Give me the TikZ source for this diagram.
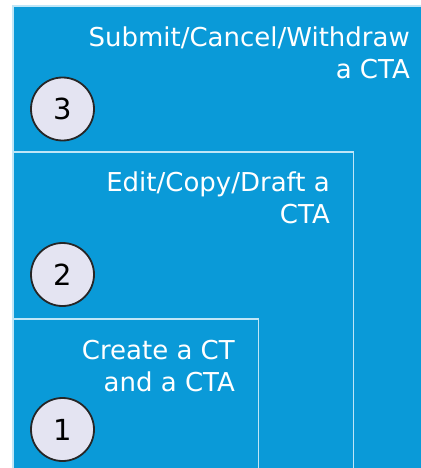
\documentclass[tikz,border=0pt]{standalone}
\usepackage{fontspec}
\setmainfont{DejaVu Sans}
\definecolor{boxblue}{HTML}{0A9AD8}
\definecolor{edgeblue}{HTML}{BFE6F7}
\definecolor{circfill}{HTML}{E4E4F2}
\begin{document}
\begin{tikzpicture}[x=1pt,y=-1pt,
  panel/.style={fill=boxblue,draw=edgeblue,line width=1.6pt},
  num/.style={circle,draw=black!85,line width=1.8pt,fill=circfill,minimum size=63pt,inner sep=0pt,font=\fontsize{29}{29}\selectfont},
  lbl/.style={align=right,anchor=north east,text=white,inner sep=0pt,font=\fontsize{26}{32}\selectfont}]
\useasboundingbox (0,0) rectangle (420,468);
\fill[white] (0,0) rectangle (420,468);
\draw[panel] (13,6) rectangle (424,472);
\draw[panel] (13,152) rectangle (353.5,472);
\draw[panel] (13,319) rectangle (258.5,472);
\node[lbl] (t3) at (410,27) {Submit/Cancel/Withdraw\\a CTA};
\node[lbl] (t2) at (330,172) {Edit/Copy/Draft a\\CTA};
\node[lbl] (t1) at (235,340) {Create a CT\\and a CTA};
\node[num] (c3) at (62.5,109) {3};
\node[num] (c2) at (62.5,274.5) {2};
\node[num] (c1) at (62.5,429.5) {1};
\end{tikzpicture}
\end{document}
